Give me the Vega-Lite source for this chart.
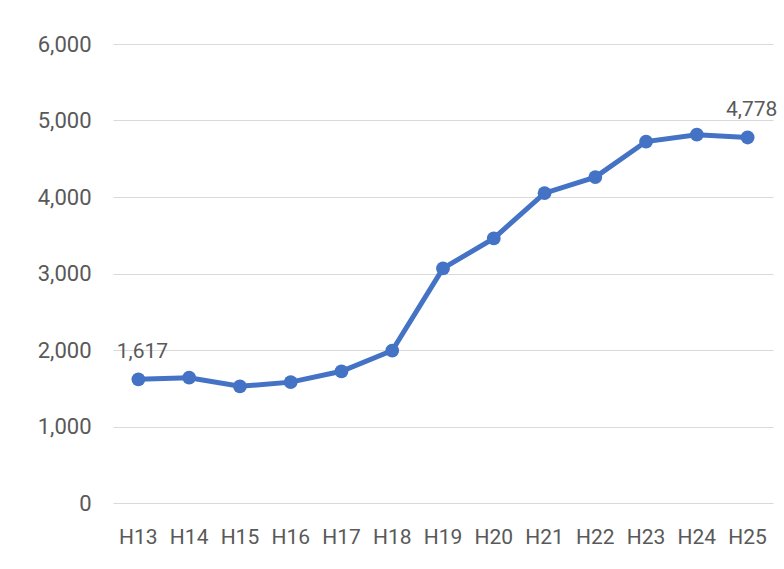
{
  "$schema": "https://vega.github.io/schema/vega-lite/v6.json",
  "autosize": {"type": "none"},
  "width": 660,
  "height": 459,
  "padding": {"left": 113, "top": 44, "right": 11, "bottom": 66},
  "background": "white",
  "config": {
    "view": {"stroke": null},
    "font": "Roboto"
  },
  "data": {
    "values": [
      {"year": "H13", "value": 1617, "label": "1,617"},
      {"year": "H14", "value": 1638, "label": ""},
      {"year": "H15", "value": 1525, "label": ""},
      {"year": "H16", "value": 1580, "label": ""},
      {"year": "H17", "value": 1722, "label": ""},
      {"year": "H18", "value": 1992, "label": ""},
      {"year": "H19", "value": 3066, "label": ""},
      {"year": "H20", "value": 3459, "label": ""},
      {"year": "H21", "value": 4050, "label": ""},
      {"year": "H22", "value": 4260, "label": ""},
      {"year": "H23", "value": 4725, "label": ""},
      {"year": "H24", "value": 4815, "label": ""},
      {"year": "H25", "value": 4778, "label": "4,778"}
    ]
  },
  "encoding": {
    "x": {
      "field": "year",
      "type": "ordinal",
      "scale": {"type": "band", "paddingInner": 0, "paddingOuter": 0},
      "axis": {
        "title": null,
        "labelAngle": 0,
        "domain": false,
        "ticks": false,
        "labelPadding": 23,
        "labelFontSize": 21,
        "labelColor": "#595959",
        "labelFont": "Roboto"
      }
    },
    "y": {
      "field": "value",
      "type": "quantitative",
      "scale": {"domain": [0, 6000]},
      "axis": {
        "title": null,
        "values": [0, 1000, 2000, 3000, 4000, 5000, 6000],
        "format": ",d",
        "domain": false,
        "ticks": false,
        "labelPadding": 22,
        "labelFontSize": 22,
        "labelColor": "#595959",
        "labelFont": "Roboto",
        "gridColor": "#d9d9d9",
        "gridWidth": 1.2
      }
    }
  },
  "layer": [
    {
      "mark": {"type": "line", "color": "#4472C4", "strokeWidth": 5, "point": {"filled": true, "size": 190, "color": "#4472C4"}}
    },
    {
      "mark": {"type": "text", "fontSize": 21, "color": "#595959", "dx": 4, "dy": -27, "font": "Roboto"},
      "encoding": {"text": {"field": "label"}}
    }
  ]
}
